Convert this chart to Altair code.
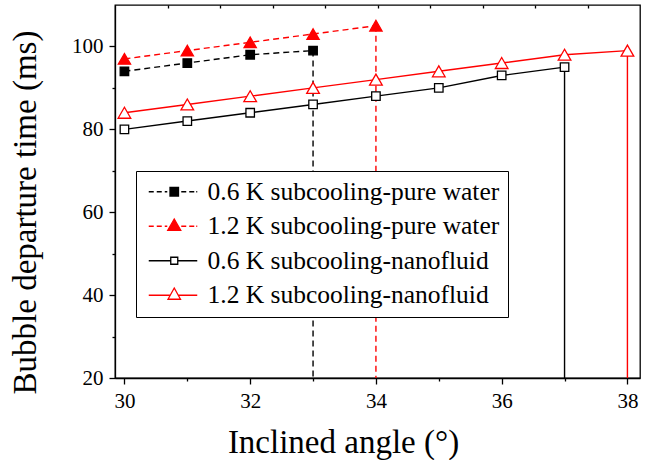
import altair as alt
import pandas as pd

FONT = "Liberation Serif"

series_names = [
    "0.6 K subcooling-pure water",
    "1.2 K subcooling-pure water",
    "0.6 K subcooling-nanofluid",
    "1.2 K subcooling-nanofluid",
]

angle_pw06 = [30, 31, 32, 33]
time_pw06 = [94, 96, 98, 99]

angle_pw12 = [30, 31, 32, 33, 34]
time_pw12 = [97, 99, 101, 103, 105]

angle_nf06 = [30, 31, 32, 33, 34, 35, 36, 37]
time_nf06 = [80, 82, 84, 86, 88, 90, 93, 95]

angle_nf12 = [30, 31, 32, 33, 34, 35, 36, 37, 38]
time_nf12 = [84, 86, 88, 90, 92, 94, 96, 98, 99]

angles = [angle_pw06, angle_pw12, angle_nf06, angle_nf12]
times = [time_pw06, time_pw12, time_nf06, time_nf12]

df = pd.concat(
    [pd.DataFrame({"angle": a, "time": t, "series": n}) for a, t, n in zip(angles, times, series_names)],
    ignore_index=True,
)
# last point of every series, where its drop line starts
last = pd.DataFrame(
    {"angle": [a[-1] for a in angles], "time": [t[-1] for t in times], "series": series_names}
)

# (stroke colour, dash, marker shape, marker fill, marker size)
styles = [
    ("black", [6, 4], "square", "black", 72),
    ("red", [6, 4], "triangle-up", "red", 150),
    ("black", None, "square", "white", 72),
    ("red", None, "triangle-up", "white", 160),
]

x_axis = alt.Axis(
    title="Inclined angle (°)",
    values=list(range(30, 39)),
    labelExpr="datum.value % 2 === 0 ? datum.label : ''",
    tickSize={"condition": {"test": "datum.value % 2 === 0", "value": 6}, "value": 3},
    labelPadding=6,
    labelFont=FONT,
    titleFont=FONT,
    titleX=228,
    titleY=74,
    titleAlign="center",
    titleBaseline="alphabetic",
    grid=False,
)
y_axis = alt.Axis(
    title="Bubble departure time (ms)",
    values=list(range(20, 110, 10)),
    labelExpr="datum.value % 20 === 0 ? datum.label : ''",
    tickSize={"condition": {"test": "datum.value % 20 === 0", "value": 6}, "value": 3},
    labelPadding=6,
    labelFont=FONT,
    titleFont=FONT,
    titleAngle=270,
    titleX=-80,
    titleY=207,
    titleAlign="center",
    titleBaseline="alphabetic",
    grid=False,
)

X = alt.X("angle:Q", scale=alt.Scale(domain=[29.85, 38.2], nice=False, zero=False), axis=x_axis)
Y = alt.Y("time:Q", scale=alt.Scale(domain=[20, 110], nice=False, zero=False), axis=y_axis)

lines, drops, marks = [], [], []
for name, (color, dash, shape, fill, size) in zip(series_names, styles):
    line_kw = dict(color=color, strokeWidth=1.4)
    if dash:
        line_kw["strokeDash"] = dash
    lines.append(
        alt.Chart(df).transform_filter(alt.datum.series == name).mark_line(**line_kw).encode(x=X, y=Y)
    )
    drops.append(
        alt.Chart(last)
        .transform_filter(alt.datum.series == name)
        .mark_rule(**line_kw)
        .encode(x=X, y=Y, y2=alt.datum(20))
    )
    marks.append(
        alt.Chart(df)
        .transform_filter(alt.datum.series == name)
        .mark_point(shape=shape, filled=True, fill=fill, stroke=color, size=size, strokeWidth=1.3, opacity=1)
        .encode(x=X, y=Y)
    )

# legend symbols: (dashed or solid) line segment - marker - line segment
dashed_left = "M-1.6,0H-0.6M0,0H1M1.6,0H2.1"
dashed_right = "M4.9,0H5.9M6.5,0H7.5M7.9,0H8.1"
legend_paths = [
    dashed_left + dashed_right + "M2.65,-0.85H4.35V0.85H2.65Z",
    dashed_left + dashed_right + "M3.5,-1.45L4.8,0.8L2.2,0.8Z",
    "M-1.6,0H2.8M4.2,0H8.1M2.8,-0.7H4.2V0.7H2.8Z",
    "M-1.6,0H2.66M4.34,0H8.1M3.5,-1.45L4.75,0.8L2.25,0.8Z",
]
legend = alt.Legend(title=None, orient="none", legendX=21, legendY=166, labelFont=FONT)
legend_layer = (
    alt.Chart(df)
    .transform_filter("false")
    .mark_point(filled=True, size=100, strokeWidth=1.3, opacity=1)
    .encode(
        x=X,
        y=Y,
        shape=alt.Shape("series:N", scale=alt.Scale(domain=series_names, range=legend_paths), legend=legend),
        fill=alt.Fill("series:N", scale=alt.Scale(domain=series_names, range=["black", "red", "white", "white"]), legend=legend),
        stroke=alt.Stroke("series:N", scale=alt.Scale(domain=series_names, range=["black", "red", "black", "red"]), legend=legend),
    )
)

main = alt.layer(*lines, *drops, *marks, legend_layer)

# minor ticks along the top frame
top_ticks = (
    alt.Chart(df)
    .transform_filter("false")
    .mark_rule()
    .encode(
        x=alt.X(
            "angle:Q",
            scale=alt.Scale(domain=[0, 10], nice=False, zero=False),
            axis=alt.Axis(orient="top", values=list(range(1, 10)), labels=False, domain=False,
                          tickSize=3, offset=-3, title=None, grid=False),
        )
    )
)

chart = (
    alt.layer(main, top_ticks)
    .resolve_scale(x="independent")
    .properties(
        width=525,
        height=373,
        padding={"left": 115, "top": 5, "right": 5, "bottom": 82},
        autosize=alt.AutoSizeParams(type="none"),
        background="white",
    )
    .configure(font=FONT)
    .configure_view(stroke="black", strokeWidth=1.3)
    .configure_axis(
        labelFont=FONT,
        labelFontSize=21,
        labelColor="black",
        titleFont=FONT,
        titleFontSize=33,
        titleFontWeight="normal",
        titleColor="black",
        domainColor="black",
        domainWidth=1.3,
        tickColor="black",
        tickWidth=1.3,
    )
    .configure_legend(
        labelFont=FONT,
        labelFontSize=25.5,
        labelColor="black",
        labelLimit=600,
        labelOffset=38,
        strokeColor="black",
        fillColor="white",
        padding=8,
        rowPadding=7.5,
        symbolSize=100,
        symbolStrokeWidth=1.3,
        cornerRadius=0,
    )
)

chart.save("out.html", embed_options={"renderer": "svg", "actions": False})
